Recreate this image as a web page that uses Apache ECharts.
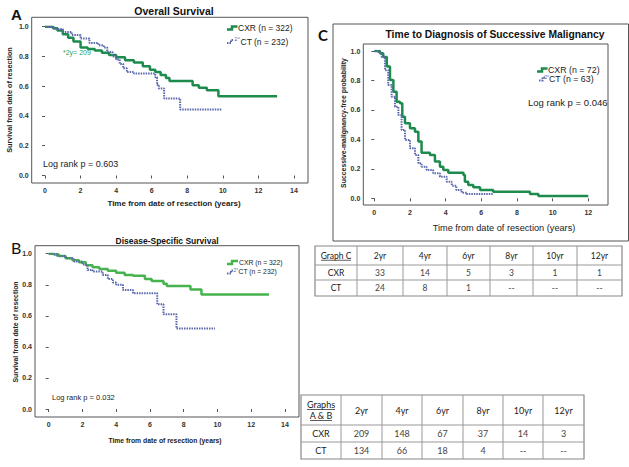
<!DOCTYPE html>
<html><head><meta charset="utf-8">
<script src="https://cdn.jsdelivr.net/npm/echarts@6/dist/echarts.min.js"></script>
<style>html,body{margin:0;padding:0;background:#fff}#c{width:629px;height:467px}</style>
</head><body><div id="c"></div>
<script>
// ---------- DATA ----------
// Panel A: Overall Survival (time in years, survival probability)
const osCxrT = [0, 0.45, 0.7, 1.0, 1.3, 1.6, 2.0, 2.4, 2.8, 3.2, 3.6, 4.0, 4.5, 5.0, 5.5, 5.9, 6.2, 6.5, 6.8, 7.0, 8.3, 8.65, 9.1, 9.75, 13.05];
const osCxrS = [1.0, 0.99, 0.975, 0.95, 0.925, 0.9, 0.86, 0.85, 0.84, 0.825, 0.81, 0.795, 0.775, 0.76, 0.735, 0.71, 0.695, 0.675, 0.655, 0.635, 0.607, 0.59, 0.573, 0.533, 0.533];
const osCtT = [0, 0.5, 1.0, 1.5, 2.0, 2.5, 3.0, 3.3, 3.5, 3.8, 4.0, 4.2, 4.4, 4.6, 5.0, 6.2, 6.3, 6.4, 6.7, 7.6, 9.95];
const osCtS = [1.0, 0.985, 0.965, 0.945, 0.92, 0.89, 0.875, 0.86, 0.83, 0.8, 0.78, 0.75, 0.72, 0.695, 0.685, 0.66, 0.61, 0.585, 0.518, 0.444, 0.444];
// Panel B: Disease-Specific Survival
const dssCxrT = [0, 0.3, 0.6, 1.0, 1.4, 1.8, 2.2, 2.6, 3.0, 3.5, 4.0, 4.5, 5.0, 5.7, 6.1, 6.8, 7.0, 8.4, 9.05, 13.05];
const dssCxrS = [1.0, 0.995, 0.985, 0.97, 0.958, 0.945, 0.925, 0.912, 0.901, 0.89, 0.878, 0.863, 0.858, 0.837, 0.824, 0.807, 0.792, 0.77, 0.738, 0.738];
const dssCtT = [0, 0.5, 1.0, 1.5, 2.0, 2.3, 2.6, 3.2, 3.5, 3.8, 4.0, 4.4, 5.0, 6.43, 6.8, 7.57, 9.85];
const dssCtS = [1.0, 0.985, 0.97, 0.95, 0.93, 0.895, 0.885, 0.863, 0.837, 0.815, 0.8, 0.766, 0.745, 0.674, 0.61, 0.519, 0.519];
// Panel C: Time to Diagnosis of Successive Malignancy
const smCxrT = [0, 0.32, 0.5, 0.7, 0.88, 1.07, 1.25, 1.44, 1.57, 1.72, 2.0, 2.28, 2.47, 2.65, 3.12, 3.4, 3.68, 3.87, 4.15, 5.0, 5.08, 5.27, 5.55, 5.93, 6.67, 8.73, 9.2, 12.0];
const smCxrS = [1.0, 0.985, 0.96, 0.894, 0.803, 0.724, 0.656, 0.645, 0.554, 0.509, 0.475, 0.452, 0.385, 0.31, 0.294, 0.249, 0.215, 0.192, 0.174, 0.158, 0.113, 0.09, 0.075, 0.057, 0.045, 0.029, 0.016, 0.016];
const smCtT = [0, 0.25, 0.41, 0.6, 0.78, 0.97, 1.16, 1.35, 1.53, 1.72, 2.0, 2.28, 2.47, 2.65, 2.93, 3.3, 3.68, 4.06, 4.34, 4.6, 4.9, 5.18, 6.67];
const smCtS = [1.0, 0.985, 0.96, 0.87, 0.77, 0.69, 0.622, 0.566, 0.464, 0.396, 0.34, 0.294, 0.238, 0.215, 0.192, 0.17, 0.147, 0.113, 0.086, 0.057, 0.038, 0.029, 0.029];
// Tables (numbers at risk)
const yrLabels = ['2yr', '4yr', '6yr', '8yr', '10yr', '12yr'];
const tabCCxr = ['33', '14', '5', '3', '1', '1'];
const tabCCt = ['24', '8', '1', '--', '--', '--'];
const tabABCxr = ['209', '148', '67', '37', '14', '3'];
const tabABCt = ['134', '66', '18', '4', '--', '--'];
// Text
const legendA = ['CXR (n = 322)', 'CT (n = 232)'];
const legendC = ['CXR (n = 72)', 'CT (n = 63)'];

// ---------- STYLE ----------
const AR = '"Liberation Sans", Arial, sans-serif';
const CAL = 'Lato, "Open Sans", sans-serif';
const GREEN = '#1d8a4e', GREEN_B = '#46b34e', BLUE = '#5b68ad';

function pairs(t, s) { return t.map((v, i) => [v, s[i]]); }

const g = [];
function txt(text, x, y, font, opt) {
  opt = opt || {};
  g.push({ type: 'text', x: x, y: y, rotation: opt.rot || 0, z: 10,
    style: { text: text, font: font, fill: opt.fill || '#222',
      textAlign: opt.align || 'left', textVerticalAlign: 'middle',
      align: opt.align || 'left', verticalAlign: 'middle' } });
}
function line(x1, y1, x2, y2, stroke, w) {
  g.push({ type: 'line', z: 10, shape: { x1, y1, x2, y2 }, style: { stroke: stroke, lineWidth: w || 1 } });
}
function rect(x, y, w, h, stroke, lw) {
  g.push({ type: 'rect', z: 9, shape: { x, y, width: w, height: h }, style: { fill: 'none', stroke: stroke, lineWidth: lw || 1 } });
}
function icon(points, color, w, dash) {
  g.push({ type: 'polyline', z: 10, shape: { points: points }, style: { stroke: color, lineWidth: w, fill: null, lineDash: dash || null } });
}

// ---------- PANEL A ----------
rect(31.7, 17.3, 276.3, 165.7, '#555');
txt('A', 11, 14, 'bold 15px ' + AR, { fill: '#111' });
txt('Overall Survival', 174, 11, 'bold 10.5px ' + AR, { align: 'center', fill: '#111' });
txt('Survival from date of resection', 9.5, 100, 'bold 7.2px ' + AR, { align: 'center', rot: Math.PI / 2 });
txt('Time from date of resection (years)', 174, 203, 'bold 8px ' + AR, { align: 'center' });
icon([[227, 29.5], [232, 29.5], [232, 26.5], [237.5, 26.5]], GREEN, 2.5);
txt(legendA[0], 238, 27.5, '8.5px ' + AR);
icon([[227, 43], [231, 43], [231, 40], [234, 40]], BLUE, 2, [1.5, 1]);
txt('2°', 234.3, 39.3, '6px ' + AR, { fill: BLUE });
txt(legendA[1], 240.5, 41.5, '8.5px ' + AR);
txt('*2y= 209', 63, 52, '7px ' + AR, { fill: '#2aa05a' });
txt('Log rank p = 0.603', 43, 164, '9px ' + AR);

// ---------- PANEL B ----------
rect(35, 245.7, 264, 171.3, '#555');
txt('B', 11, 247, '16px ' + CAL, { fill: '#111' });
txt('Disease-Specific Survival', 167, 240.7, 'bold 8.5px ' + AR, { align: 'center', fill: '#111' });
txt('Survival from date of resection', 15, 332, 'bold 6.9px ' + AR, { align: 'center', rot: Math.PI / 2 });
txt('Time from date of resection (years)', 165, 440, 'bold 6.8px ' + AR, { align: 'center' });
icon([[227, 264], [232, 264], [232, 261], [238, 261]], GREEN_B, 2.5);
txt(legendA[0], 239, 262.3, '6.8px ' + AR);
icon([[227, 273.5], [231, 273.5], [231, 270.5], [234, 270.5]], BLUE, 2, [1.5, 1]);
txt('2°', 233.3, 269.8, '5.5px ' + AR, { fill: BLUE });
txt(legendA[1], 238.5, 271.7, '6.8px ' + AR);
txt('Log rank p = 0.032', 52, 397, '7.5px ' + AR);

// ---------- PANEL C ----------
rect(333, 24, 295.5, 217, '#555');
rect(363.3, 44, 244.7, 161, '#555');
txt('C', 318, 35, 'bold 15px ' + CAL, { fill: '#111' });
txt('Time to Diagnosis of Successive Malignancy', 495, 34, 'bold 10.3px ' + AR, { align: 'center', fill: '#111' });
txt('Successive-malignancy-free probability', 343, 123, 'bold 6.9px ' + AR, { align: 'center', rot: Math.PI / 2 });
txt('Time from date of resection (years)', 504, 228, '9.2px ' + AR, { align: 'center' });
icon([[537, 71.5], [542, 71.5], [542, 68.5], [547.5, 68.5]], GREEN, 2.5);
txt(legendC[0], 548, 70, '8.8px ' + AR);
icon([[539, 80.5], [542.5, 80.5], [542.5, 77.5], [545, 77.5]], BLUE, 2, [1.5, 1]);
txt('2°', 544.3, 76.8, '5.5px ' + AR, { fill: BLUE });
txt(legendC[1], 549, 79.3, '8.8px ' + AR);
txt('Log rank p = 0.046', 528, 102, '9.5px ' + AR);

// ---------- TABLES ----------
function table(colX, rowY, header, rows, size) {
  const x0 = colX[0], x1 = colX[colX.length - 1], y0 = rowY[0], y1 = rowY[rowY.length - 1];
  rect(x0, y0, x1 - x0, y1 - y0, '#888', 1.2);
  for (let i = 1; i < colX.length - 1; i++) line(colX[i], y0, colX[i], y1, '#999', 1);
  for (let j = 1; j < rowY.length - 1; j++) line(x0, rowY[j], x1, rowY[j], '#999', 1);
  const font = size + 'px ' + CAL;
  const cx0 = (colX[0] + colX[1]) / 2;
  const hy = (rowY[0] + rowY[1]) / 2;
  const n = header.lines.length;
  header.lines.forEach((t, k) => {
    const yy = hy + (k - (n - 1) / 2) * (size + 2);
    txt(t, cx0, yy, font, { align: 'center', fill: '#222' });
    const w = header.widths[k];
    line(cx0 - w / 2, yy + size / 2 + 0.5, cx0 + w / 2, yy + size / 2 + 0.5, '#333', 0.8);
  });
  yrLabels.forEach((t, i) => txt(t, (colX[i + 1] + colX[i + 2]) / 2, hy, font, { align: 'center' }));
  rows.forEach((r, j) => {
    const yy = (rowY[j + 1] + rowY[j + 2]) / 2;
    txt(r[0], cx0, yy, font, { align: 'center' });
    r[1].forEach((v, i) => txt(v, (colX[i + 1] + colX[i + 2]) / 2, yy, font, { align: 'center', fill: '#444' }));
  });
}
table([315, 357, 403, 447, 490, 533, 577, 622], [246, 265, 280, 296],
  { lines: ['Graph C'], widths: [30] }, [['CXR', tabCCxr], ['CT', tabCCt]], 8.5);
table([301, 341, 382, 422, 463, 503, 543, 584], [395, 425, 442, 459],
  { lines: ['Graphs', 'A & B'], widths: [28, 22] }, [['CXR', tabABCxr], ['CT', tabABCt]], 9);

// ---------- CHART ----------
const grids = [
  { left: 45, top: 26.7, width: 249, height: 148.8 },
  { left: 48.7, top: 253.7, width: 236.3, height: 155.3 },
  { left: 374.3, top: 51, width: 214, height: 147.3 }
];
const xOff = [7.5, 8, 6.7], yOff = [13.3, 13.7, 11];
const xMax = [14, 14, 12];
const lbl = { fontSize: 7, fontWeight: 'bold', color: '#333', fontFamily: AR };
const option = {
  animation: false,
  grid: grids.map(gr => Object.assign({ containLabel: false }, gr)),
  xAxis: grids.map((gr, i) => ({
    type: 'value', gridIndex: i, min: 0, max: xMax[i], interval: 2, offset: xOff[i],
    axisLine: { show: false }, splitLine: { show: false },
    axisTick: { show: true, length: 3, lineStyle: { color: '#555' } },
    axisLabel: Object.assign({ margin: 4 }, lbl)
  })),
  yAxis: grids.map((gr, i) => ({
    type: 'value', gridIndex: i, min: 0, max: 1, interval: 0.2, offset: yOff[i],
    axisLine: { show: false }, splitLine: { show: false },
    axisTick: { show: true, length: 3, lineStyle: { color: '#555' } },
    axisLabel: Object.assign({ margin: 3, formatter: v => v.toFixed(1) }, lbl)
  })),
  series: [
    { name: 'A CXR', data: pairs(osCxrT, osCxrS), xAxisIndex: 0, yAxisIndex: 0, color: GREEN, w: 2.5, dash: 'solid' },
    { name: 'A CT', data: pairs(osCtT, osCtS), xAxisIndex: 0, yAxisIndex: 0, color: BLUE, w: 2, dash: [1.5, 1] },
    { name: 'B CXR', data: pairs(dssCxrT, dssCxrS), xAxisIndex: 1, yAxisIndex: 1, color: GREEN_B, w: 2.5, dash: 'solid' },
    { name: 'B CT', data: pairs(dssCtT, dssCtS), xAxisIndex: 1, yAxisIndex: 1, color: BLUE, w: 2, dash: [1.5, 1] },
    { name: 'C CXR', data: pairs(smCxrT, smCxrS), xAxisIndex: 2, yAxisIndex: 2, color: GREEN, w: 2.5, dash: 'solid' },
    { name: 'C CT', data: pairs(smCtT, smCtS), xAxisIndex: 2, yAxisIndex: 2, color: BLUE, w: 2, dash: [1.5, 1] }
  ].map(s => ({
    name: s.name, type: 'line', step: 'end', data: s.data, xAxisIndex: s.xAxisIndex, yAxisIndex: s.yAxisIndex,
    showSymbol: false, symbol: 'none', silent: true, z: 3,
    lineStyle: { color: s.color, width: s.w, type: s.dash }, itemStyle: { color: s.color }
  })),
  graphic: { elements: g }
};
const chart = echarts.init(document.getElementById('c'), null, { renderer: 'svg', width: 629, height: 467 });
chart.setOption(option);
</script>
</body></html>
